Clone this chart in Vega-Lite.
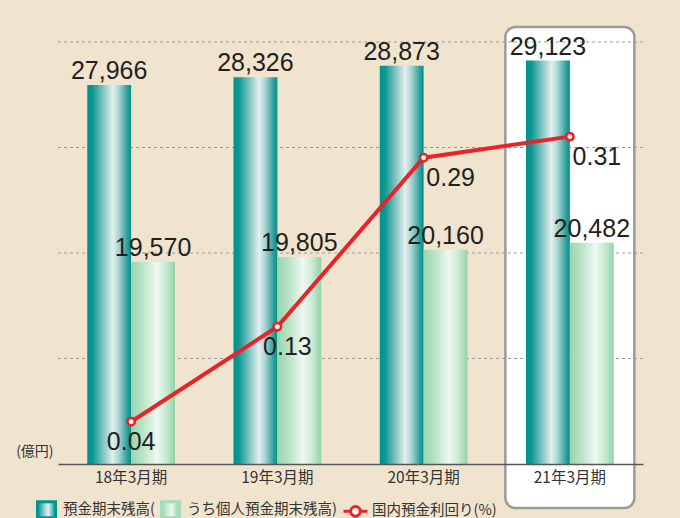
{
  "$schema": "https://vega.github.io/schema/vega-lite/v6.json",
  "width": 585,
  "height": 437,
  "autosize": {"type": "none"},
  "padding": {"left": 58, "top": 27, "right": 37, "bottom": 54},
  "background": "#f1e4cf",
  "config": {
    "view": {"stroke": null},
    "font": "Liberation Sans, Noto Sans CJK JP",
    "axisX": {
      "domainColor": "#555555",
      "domainWidth": 1.5,
      "ticks": false,
      "labelFont": "Noto Sans CJK JP",
      "labelFontSize": 15.5,
      "labelColor": "#333333",
      "labelPadding": 6,
      "labelAngle": 0,
      "grid": false
    },
    "legend": {
      "orient": "none",
      "legendX": -25,
      "legendY": 469,
      "direction": "horizontal",
      "padding": 0,
      "columnPadding": 0,
      "labelOffset": 3,
      "labelFont": "Noto Sans CJK JP",
      "labelFontSize": 14.5,
      "labelColor": "#333333",
      "symbolSize": 576,
      "title": null
    }
  },
  "datasets": {
    "bars": [
      {"year": "18年3月期", "series": "預金期末残高(", "value": 27966},
      {"year": "19年3月期", "series": "預金期末残高(", "value": 28326},
      {"year": "20年3月期", "series": "預金期末残高(", "value": 28873},
      {"year": "21年3月期", "series": "預金期末残高(", "value": 29123},
      {"year": "18年3月期", "series": "うち個人預金期末残高)", "value": 19570},
      {"year": "19年3月期", "series": "うち個人預金期末残高)", "value": 19805},
      {"year": "20年3月期", "series": "うち個人預金期末残高)", "value": 20160},
      {"year": "21年3月期", "series": "うち個人預金期末残高)", "value": 20482}
    ],
    "rates": [
      {"year": "18年3月期", "rate": 0.04},
      {"year": "19年3月期", "rate": 0.13},
      {"year": "20年3月期", "rate": 0.29},
      {"year": "21年3月期", "rate": 0.31}
    ],
    "grid": [
      {"level": 15000},
      {"level": 20000},
      {"level": 25000},
      {"level": 30000}
    ],
    "box": [{"year": "21年3月期"}],
    "unit": [{"year": "18年3月期", "label": "(億円)"}]
  },
  "layer": [
    {
      "layer": [
        {
          "data": {"name": "box"},
          "mark": {"type": "rect", "fill": "#ffffff", "stroke": "#9b9b9b", "strokeWidth": 2.5, "cornerRadius": 10, "width": {"band": 1.47}},
          "encoding": {
            "x": {"field": "year", "type": "nominal", "title": null, "scale": {"type": "band", "domain": ["18年3月期", "19年3月期", "20年3月期", "21年3月期"], "paddingInner": 0.4, "paddingOuter": 0.2}},
            "y": {"datum": 30711, "type": "quantitative", "axis": null, "scale": {"domain": [10000, 30711], "zero": false, "nice": false}},
            "y2": {"datum": 7915}
          }
        },
        {
          "data": {"name": "grid"},
          "mark": {"type": "rule", "stroke": "#9a9a9a", "strokeWidth": 1, "strokeDash": [3, 3]},
          "encoding": {
            "y": {"field": "level", "type": "quantitative", "axis": null, "scale": {"domain": [10000, 30711], "zero": false, "nice": false}}
          }
        },
        {
          "data": {"name": "bars"},
          "transform": [{"filter": "datum.series === '預金期末残高('"}],
          "mark": {"type": "bar", "color": {"gradient": "linear", "x1": 0, "y1": 0, "x2": 1, "y2": 0, "stops": [
            {"offset": 0, "color": "#00918c"},
            {"offset": 0.12, "color": "#0d9792"},
            {"offset": 0.42, "color": "#9ccfcd"},
            {"offset": 0.58, "color": "#e2f0ef"},
            {"offset": 0.72, "color": "#a9d5d3"},
            {"offset": 0.92, "color": "#2a9e99"},
            {"offset": 1, "color": "#00918c"}]}},
          "encoding": {
            "x": {"field": "year", "type": "nominal", "title": null, "axis": {"zindex": 1}},
            "xOffset": {"field": "series", "type": "nominal", "scale": {"domain": ["預金期末残高(", "うち個人預金期末残高)"]}},
            "y": {"field": "value", "type": "quantitative", "axis": null, "scale": {"domain": [10000, 30711], "zero": false, "nice": false}},
            "y2": {"datum": 10000}
          }
        },
        {
          "data": {"name": "bars"},
          "transform": [{"filter": "datum.series !== '預金期末残高('"}],
          "mark": {"type": "bar", "color": {"gradient": "linear", "x1": 0, "y1": 0, "x2": 1, "y2": 0, "stops": [
            {"offset": 0, "color": "#98d5ad"},
            {"offset": 0.3, "color": "#bfe5cb"},
            {"offset": 0.58, "color": "#eef8f1"},
            {"offset": 0.78, "color": "#cdebd6"},
            {"offset": 1, "color": "#93d2a9"}]}},
          "encoding": {
            "x": {"field": "year", "type": "nominal", "title": null},
            "xOffset": {"field": "series", "type": "nominal", "scale": {"domain": ["預金期末残高(", "うち個人預金期末残高)"]}},
            "y": {"field": "value", "type": "quantitative", "axis": null, "scale": {"domain": [10000, 30711], "zero": false, "nice": false}},
            "y2": {"datum": 10000}
          }
        },
        {
          "data": {"name": "bars"},
          "mark": {"type": "text", "fontSize": 25, "font": "Liberation Sans", "color": "#231f20", "baseline": "alphabetic", "dy": -6},
          "encoding": {
            "x": {"field": "year", "type": "nominal", "title": null},
            "xOffset": {"field": "series", "type": "nominal", "scale": {"domain": ["預金期末残高(", "うち個人預金期末残高)"]}},
            "y": {"field": "value", "type": "quantitative", "axis": null, "scale": {"domain": [10000, 30711], "zero": false, "nice": false}},
            "text": {"field": "value", "type": "quantitative", "format": ","}
          }
        },
        {
          "data": {"name": "unit"},
          "mark": {"type": "text", "font": "Noto Sans CJK JP", "fontSize": 14, "color": "#333333", "align": "left", "baseline": "middle", "dx": -115},
          "encoding": {
            "x": {"field": "year", "type": "nominal", "title": null},
            "y": {"datum": 10570, "type": "quantitative", "axis": null, "scale": {"domain": [10000, 30711], "zero": false, "nice": false}},
            "text": {"field": "label", "type": "nominal"}
          }
        }
      ]
    },
    {
      "data": {"name": "rates"},
      "layer": [
        {
          "mark": {"type": "line", "strokeWidth": 4},
          "encoding": {
            "x": {"field": "year", "type": "nominal", "title": null},
            "y": {"field": "rate", "type": "quantitative", "axis": null, "scale": {"domain": [0, 0.4138], "nice": false}},
            "color": {
              "datum": "国内預金利回り(%)",
              "type": "nominal",
              "scale": {"domain": ["預金期末残高(", "うち個人預金期末残高)", "国内預金利回り(%)"], "range": ["#00958f", "#a6dbb9", "#e8232a"]},
              "legend": {
                "encode": {
                  "symbols": {
                    "update": {
                      "shape": [
                        {"test": "datum.value === '国内預金利回り(%)'", "value": "M-1,0H-0.4M0.4,0H1M0.4,0A0.4,0.4 0 1 1 -0.4,0A0.4,0.4 0 1 1 0.4,0Z"},
                        {"value": "M-0.75,-0.67H0.75V0.67H-0.75Z"}
                      ],
                      "size": {"value": 576},
                      "fill": [
                        {"test": "datum.value === '預金期末残高('", "value": {"gradient": "linear", "x1": 0, "y1": 0, "x2": 1, "y2": 0, "stops": [
                          {"offset": 0, "color": "#00918c"},
                          {"offset": 0.45, "color": "#b5dbda"},
                          {"offset": 0.6, "color": "#e2f0ef"},
                          {"offset": 1, "color": "#00918c"}]}},
                        {"test": "datum.value === 'うち個人預金期末残高)'", "value": {"gradient": "linear", "x1": 0, "y1": 0, "x2": 1, "y2": 0, "stops": [
                          {"offset": 0, "color": "#98d5ad"},
                          {"offset": 0.55, "color": "#eef8f1"},
                          {"offset": 1, "color": "#93d2a9"}]}},
                        {"value": "#ffffff"}
                      ],
                      "stroke": [
                        {"test": "datum.value === '国内預金利回り(%)'", "value": "#e8232a"},
                        {"value": "transparent"}
                      ],
                      "strokeWidth": {"value": 3},
                      "opacity": {"value": 1},
                      "fillOpacity": {"value": 1}
                    }
                  }
                }
              }
            }
          }
        },
        {
          "mark": {"type": "point", "shape": "circle", "filled": true, "fill": "#ffffff", "stroke": "#e8232a", "strokeWidth": 2.5, "size": 55, "opacity": 1},
          "encoding": {
            "x": {"field": "year", "type": "nominal", "title": null},
            "y": {"field": "rate", "type": "quantitative", "axis": null, "scale": {"domain": [0, 0.4138], "nice": false}}
          }
        },
        {
          "mark": {"type": "text", "fontSize": 25, "font": "Liberation Sans", "color": "#231f20", "baseline": "middle", "align": "center", "dy": 20,
            "dx": {"expr": "datum.year === '18年3月期' ? 0 : datum.year === '19年3月期' ? 10 : 27"}},
          "encoding": {
            "x": {"field": "year", "type": "nominal", "title": null},
            "y": {"field": "rate", "type": "quantitative", "axis": null, "scale": {"domain": [0, 0.4138], "nice": false}},
            "text": {"field": "rate", "type": "quantitative", "format": ".2f"}
          }
        }
      ]
    }
  ],
  "resolve": {"scale": {"y": "independent"}}
}
